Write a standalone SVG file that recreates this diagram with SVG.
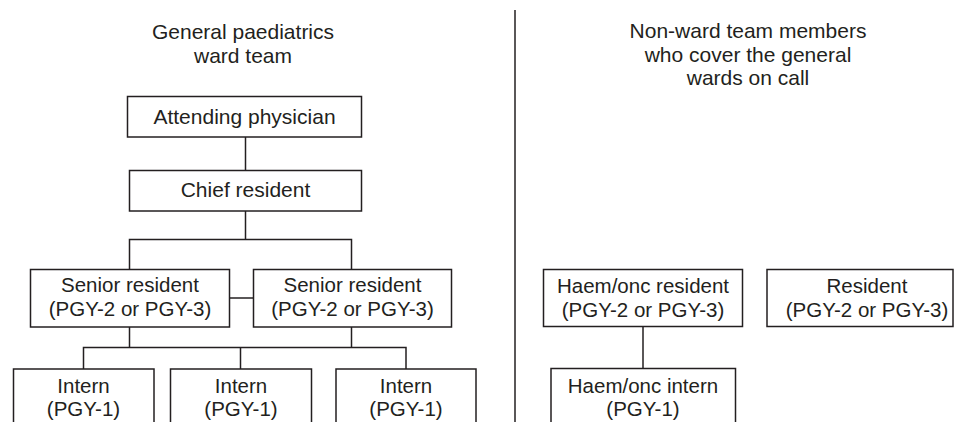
<svg xmlns="http://www.w3.org/2000/svg" width="954" height="422" viewBox="0 0 954 422">
<style>
  text { font-family: "Liberation Sans", Arial, sans-serif; fill: #231f20; text-anchor: middle; }
  .title { font-size: 21px; }
  .lbl { font-size: 20.5px; }
  .box { fill: #ffffff; stroke: #231f20; stroke-width: 1.5; }
  .conn { fill: none; stroke: #231f20; stroke-width: 1.5; }
</style>
<rect width="954" height="422" fill="#ffffff"/>
<g id="titles">
  <text class="title" x="243" y="39">General paediatrics</text>
  <text class="title" x="243" y="63">ward team</text>
  <text class="title" x="748" y="38">Non-ward team members</text>
  <text class="title" x="748" y="62">who cover the general</text>
  <text class="title" x="748" y="85">wards on call</text>
</g>
<g id="divider">
  <line class="conn" x1="515" y1="10" x2="515" y2="422"/>
</g>
<g id="connectors">
  <line class="conn" x1="245.5" y1="137" x2="245.5" y2="170.5"/>
  <line class="conn" x1="245.5" y1="211" x2="245.5" y2="239.5"/>
  <polyline class="conn" points="129.5,269.5 129.5,239.5 351.5,239.5 351.5,269.5"/>
  <line class="conn" x1="229.5" y1="298" x2="253.5" y2="298"/>
  <line class="conn" x1="129.5" y1="327" x2="129.5" y2="347.5"/>
  <line class="conn" x1="351.5" y1="327" x2="351.5" y2="347.5"/>
  <polyline class="conn" points="83.5,369 83.5,347.5 406,347.5 406,369"/>
  <line class="conn" x1="240.5" y1="347.5" x2="240.5" y2="369"/>
  <line class="conn" x1="643" y1="327" x2="643" y2="368.5"/>
</g>
<g id="attending">
  <rect class="box" x="127.5" y="96.5" width="234" height="40.5"/>
  <text class="title" x="244.5" y="124">Attending physician</text>
</g>
<g id="chief">
  <rect class="box" x="129.5" y="170.5" width="232" height="40.5"/>
  <text class="title" x="245.5" y="197">Chief resident</text>
</g>
<g id="senior1">
  <rect class="box" x="30.5" y="269.5" width="199" height="57.5"/>
  <text class="lbl" x="130" y="292">Senior resident</text>
  <text class="lbl" x="130" y="316">(PGY-2 or PGY-3)</text>
</g>
<g id="senior2">
  <rect class="box" x="253.5" y="269.5" width="198" height="57.5"/>
  <text class="lbl" x="352.5" y="292">Senior resident</text>
  <text class="lbl" x="352.5" y="316">(PGY-2 or PGY-3)</text>
</g>
<g id="intern1">
  <rect class="box" x="13.5" y="369" width="140.5" height="80"/>
  <text class="lbl" x="83.5" y="393">Intern</text>
  <text class="lbl" x="83.5" y="416">(PGY-1)</text>
</g>
<g id="intern2">
  <rect class="box" x="170.5" y="369" width="141" height="80"/>
  <text class="lbl" x="241" y="393">Intern</text>
  <text class="lbl" x="241" y="416">(PGY-1)</text>
</g>
<g id="intern3">
  <rect class="box" x="336" y="369" width="140" height="80"/>
  <text class="lbl" x="406" y="393">Intern</text>
  <text class="lbl" x="406" y="416">(PGY-1)</text>
</g>
<g id="haemonc-resident">
  <rect class="box" x="543.5" y="269.5" width="199" height="57"/>
  <text class="lbl" x="643" y="292.5">Haem/onc resident</text>
  <text class="lbl" x="643" y="316.5">(PGY-2 or PGY-3)</text>
</g>
<g id="resident">
  <rect class="box" x="767" y="269.5" width="186" height="57"/>
  <text class="lbl" x="867" y="292.5">Resident</text>
  <text class="lbl" x="867" y="316.5">(PGY-2 or PGY-3)</text>
</g>
<g id="haemonc-intern">
  <rect class="box" x="551" y="368.5" width="184.5" height="80"/>
  <text class="lbl" x="643" y="393">Haem/onc intern</text>
  <text class="lbl" x="643" y="416">(PGY-1)</text>
</g>
</svg>
